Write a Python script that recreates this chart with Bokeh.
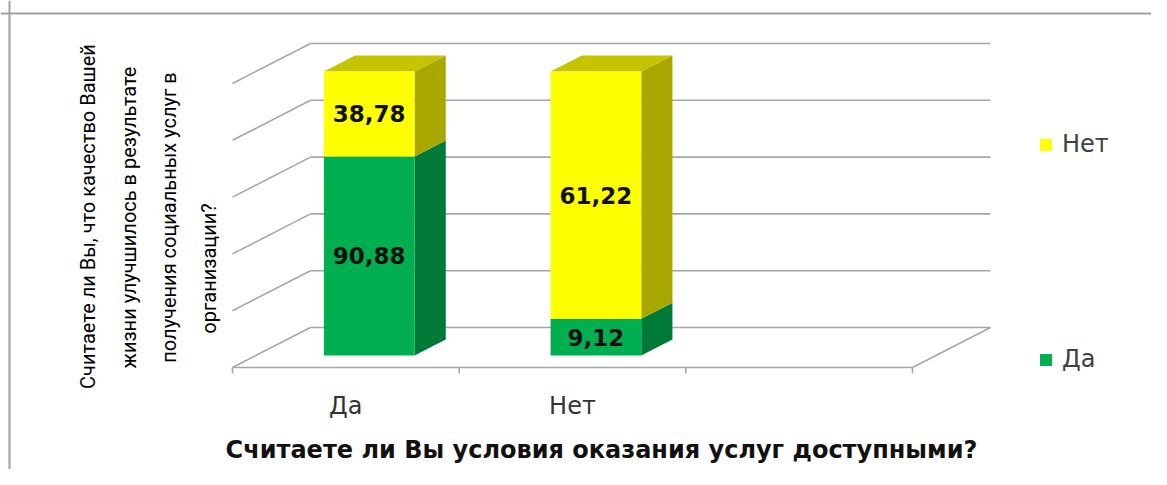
import math
from bokeh.plotting import figure
from bokeh.models import Range1d, Legend, LegendItem, Span
from bokeh.core.properties import value
from bokeh.embed import file_html
from bokeh.resources import INLINE

# ---------------- data ----------------
categories = ["Да", "Нет"]
n_slots = 3                       # the category axis has three slots, the third is empty
series_names = ["Да", "Нет"]      # stacking order: bottom -> top
da_values = [90.88, 9.12]
net_values = [38.78, 61.22]
grid_ticks = [0, 20, 40, 60, 80, 100]

x_title = "Считаете ли Вы условия оказания услуг доступными?"
y_title_lines = ["Считаете ли Вы, что качество Вашей",
                 "жизни улучшилось в результате",
                 "получения социальных услуг в",
                 "организации?"]

front_colors = {"Да": "#00B050", "Нет": "#FFFF00"}
side_colors = {"Да": "#007A37", "Нет": "#A9A800"}
top_colors = {"Да": "#009A45", "Нет": "#C6C300"}

# ---------------- layout (reference pixel geometry) ----------------
W, H = 1151, 469
OFF = 0                               # canvas origin in page pixels
X0, Y0 = 232, 367                     # front floor corner in page pixels
PX = (912 - 232) / n_slots            # pixels per category slot
PY = (367 - 83) / 100.0               # pixels per percent
DX = 78 / PX                          # full depth, x offset in data units
DY = 40 / PY                          # full depth, y offset in data units
Z0, Z1 = 0.3, 0.7                     # bar depth span
BW = 0.4                              # bar width in slots


def rx(px):
    return (px - X0) / PX


def ry(py):
    return (Y0 - py) / PY


p = figure(width=W, height=H,
           x_range=Range1d(rx(OFF), rx(OFF + W)), y_range=Range1d(ry(OFF + H), ry(OFF)),
           output_backend="svg", toolbar_location=None,
           x_axis_location=None, y_axis_location=None,
           min_border=0, outline_line_color=None,
           background_fill_color="white", border_fill_color="white")
p.grid.visible = False

# outer frame (top and left edges visible)
p.add_layout(Span(location=ry(13), dimension="width", line_color="#A0A0A0", line_width=2))
p.add_layout(Span(location=rx(9), dimension="height", line_color="#A0A0A0", line_width=2))

# ---------------- 3D walls / floor ----------------
gxs, gys = [], []
for t in grid_ticks:
    gxs.append([DX, n_slots + DX]); gys.append([t + DY, t + DY])      # back wall
    gxs.append([0, DX]); gys.append([t, t + DY])                      # side wall
gxs.append([0, n_slots]); gys.append([0, 0])                          # front floor edge
gxs.append([n_slots, n_slots + DX]); gys.append([0, DY])              # right floor edge
for k in range(n_slots + 1):
    gxs.append([k, k]); gys.append([0, -6 / PY])                      # ticks
p.multi_line(gxs, gys, line_color="#A6A6A6", line_width=1.6)

# ---------------- bars ----------------
values = {"Да": da_values, "Нет": net_values}
front_renderers = {}
labels_x, labels_y, labels_t = [], [], []
for s_idx, s in enumerate(series_names):
    left, right, bottom, top = [], [], [], []
    sxs, sys_ = [], []
    txs, tys = [], []
    for i, cat in enumerate(categories):
        total = sum(values[n][i] for n in series_names)
        b = sum(values[n][i] for n in series_names[:s_idx]) / total * 100
        t = b + values[s][i] / total * 100
        c = i + 0.5
        L0 = c - BW / 2 + Z0 * DX
        R0 = c + BW / 2 + Z0 * DX
        R1 = c + BW / 2 + Z1 * DX
        L1 = c - BW / 2 + Z1 * DX
        left.append(L0); right.append(R0)
        bottom.append(b + Z0 * DY); top.append(t + Z0 * DY)
        sxs.append([R0, R1, R1, R0])
        sys_.append([b + Z0 * DY, b + Z1 * DY, t + Z1 * DY, t + Z0 * DY])
        if s_idx == len(series_names) - 1:
            txs.append([L0, R0, R1, L1])
            tys.append([t + Z0 * DY, t + Z0 * DY, t + Z1 * DY, t + Z1 * DY])
        labels_x.append(c + Z0 * DX)
        labels_y.append((b + t) / 2 + Z0 * DY)
        labels_t.append(f"{values[s][i]:.2f}".replace(".", ","))
    p.patches(sxs, sys_, fill_color=side_colors[s], line_color=None)
    if txs:
        p.patches(txs, tys, fill_color=top_colors[s], line_color=None)
    front_renderers[s] = p.quad(left=left, right=right, bottom=bottom, top=top,
                                fill_color=front_colors[s], line_color=None)

p.text(labels_x, labels_y, text=labels_t, text_align="center", text_baseline="middle",
       text_font=value("DejaVu Sans"), text_font_style="bold",
       text_font_size="23px", text_color="#111111")

# ---------------- category labels ----------------
p.text([i + 0.5 for i in range(len(categories))], [ry(405)] * len(categories),
       text=categories, text_align="center", text_baseline="middle",
       text_font=value("DejaVu Sans"), text_font_size="24px", text_color="#333333")

# ---------------- axis titles ----------------
p.text([rx(601)], [ry(449)], text=[x_title], text_align="center", text_baseline="middle",
       text_font=value("DejaVu Sans"), text_font_style="bold",
       text_font_size="24px", text_color="#111111")

ty_x = [rx(87), rx(128), rx(168), rx(208)]
ty_y = [ry(216), ry(217), ry(217), ry(268)]
p.text(ty_x, ty_y, text=y_title_lines, angle=math.pi / 2,
       text_align="center", text_baseline="middle",
       text_font=value("Roboto"), text_font_size="20px", text_color="#000000")

# ---------------- legend ----------------
legend = Legend(items=[LegendItem(label="Нет", renderers=[front_renderers["Нет"]]),
                       LegendItem(label="Да", renderers=[front_renderers["Да"]])],
                location=(1038, 96), orientation="vertical",
                glyph_width=15, glyph_height=15, label_standoff=9,
                spacing=187, padding=0, margin=0,
                label_text_font="DejaVu Sans", label_text_font_size="24px",
                label_text_color="#404040",
                border_line_color=None, background_fill_alpha=0)
p.add_layout(legend)

open("out.html", "w").write(file_html(p, INLINE))
